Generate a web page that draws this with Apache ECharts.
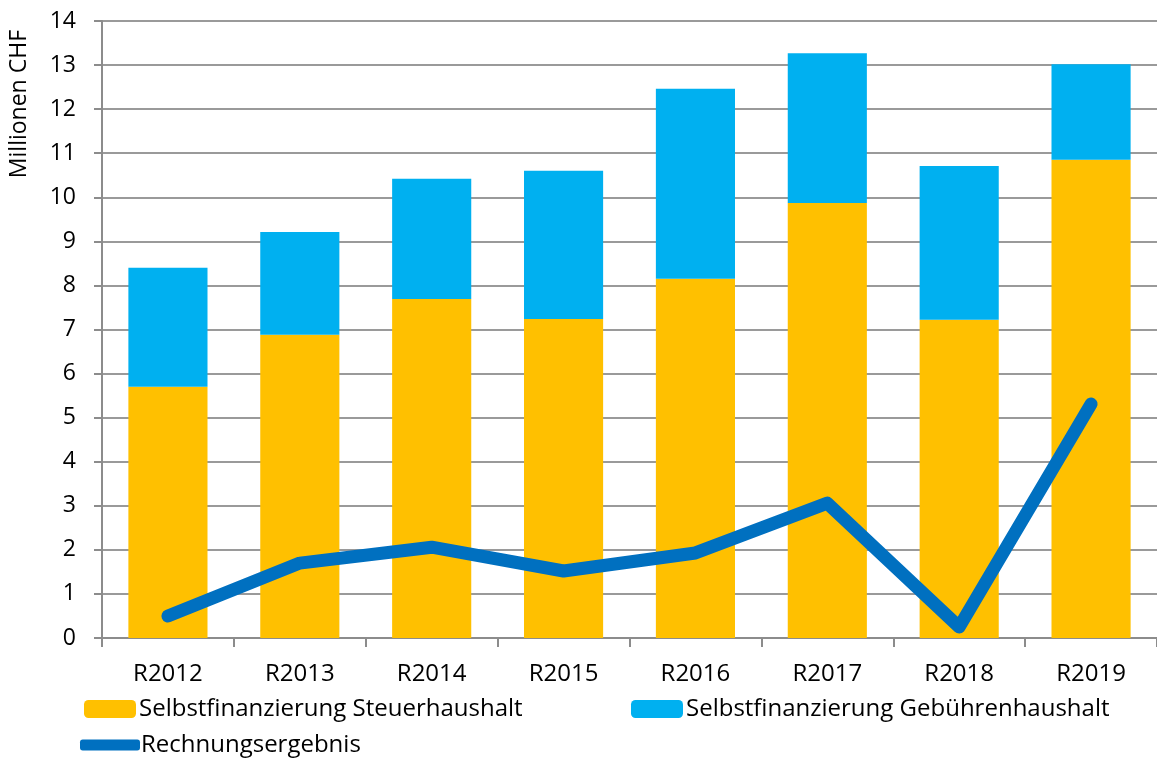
<!DOCTYPE html>
<html lang="de">
<head>
    <meta charset="UTF-8">
    <title>Selbstfinanzierung</title>
    <script src="https://cdn.jsdelivr.net/npm/echarts@6/dist/echarts.min.js"></script>
    <style>
        html, body { margin: 0; padding: 0; background: #fff; }
    </style>
</head>
<body>
<div id="my" style="width: 1157px;height: 760px;"></div>
<script>
    // Werte (Millionen CHF)
    var jahre = ['R2012', 'R2013', 'R2014', 'R2015', 'R2016', 'R2017', 'R2018', 'R2019']
    var steuer = [5.70, 6.88, 7.69, 7.24, 8.15, 9.87, 7.22, 10.85]
    var gebuehren = [2.70, 2.33, 2.73, 3.36, 4.31, 3.40, 3.49, 2.17]
    var ergebnis = [0.50, 1.70, 2.06, 1.52, 1.93, 3.06, 0.25, 5.31]

    var font = '"Open Sans", "Noto Sans", sans-serif'
    var mCharts = echarts.init(document.getElementById('my'))
    var option = {
        animation: false,
        textStyle: { fontFamily: font },
        grid: { left: 102, right: -4, top: 21, bottom: 122 },
        graphic: [{
            type: 'text',
            left: 8,
            top: 30,
            rotation: Math.PI / 2,
            style: { text: 'Millionen CHF', fontSize: 23, fill: '#000', fontFamily: font }
        }],
        legend: [
            {
                left: 79, top: 692, itemWidth: 52, itemHeight: 18, itemGap: 0,
                data: ['Selbstfinanzierung Steuerhaushalt'],
                textStyle: { fontSize: 24, color: '#000', padding: [0, 0, 0, -2] }
            },
            {
                left: 626, top: 692, itemWidth: 52, itemHeight: 18, itemGap: 0,
                data: ['Selbstfinanzierung Gebührenhaushalt'],
                textStyle: { fontSize: 24, color: '#000', padding: [0, 0, 0, -2] }
            },
            {
                left: 75, top: 728, itemWidth: 60, itemHeight: 11, itemGap: 0,
                data: [{ name: 'Rechnungsergebnis', icon: 'roundRect' }],
                textStyle: { fontSize: 24, color: '#000', padding: [0, 0, 0, -4] }
            }
        ],
        xAxis: {
            type: 'category',
            data: jahre,
            axisLine: { lineStyle: { color: '#8c8c8c', width: 2 } },
            axisTick: { show: true, length: 9, lineStyle: { color: '#8c8c8c', width: 2 } },
            axisLabel: { fontSize: 24, color: '#000', margin: 24 }
        },
        yAxis: {
            type: 'value',
            min: 0,
            max: 14,
            interval: 1,
            axisLine: { show: true, lineStyle: { color: '#8c8c8c', width: 2 } },
            axisTick: { show: true, length: 8, lineStyle: { color: '#8c8c8c', width: 2 } },
            splitLine: { lineStyle: { color: '#9a9a9a', width: 2 } },
            axisLabel: { fontSize: 23, color: '#000', margin: 26 }
        },
        series: [
            {
                name: 'Selbstfinanzierung Steuerhaushalt',
                type: 'bar',
                stack: 'sf',
                barWidth: '60%',
                data: steuer,
                itemStyle: { color: '#FFC000' }
            },
            {
                name: 'Selbstfinanzierung Gebührenhaushalt',
                type: 'bar',
                stack: 'sf',
                barWidth: '60%',
                data: gebuehren,
                itemStyle: { color: '#00B0F0' }
            },
            {
                name: 'Rechnungsergebnis',
                type: 'line',
                data: ergebnis,
                symbol: 'none',
                itemStyle: { color: '#0070C0' },
                lineStyle: { color: '#0070C0', width: 13, cap: 'round', join: 'round' },
                z: 5
            }
        ]
    }
    mCharts.setOption(option)
</script>
</body>
</html>
